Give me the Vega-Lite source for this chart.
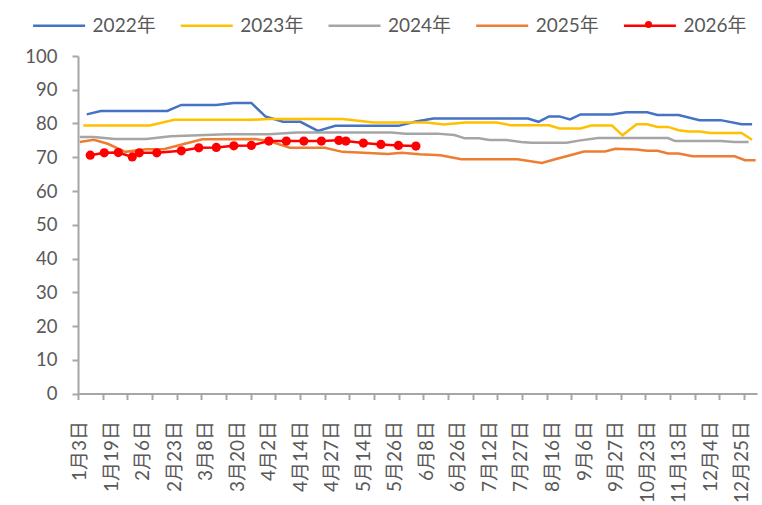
{
  "$schema": "https://vega.github.io/schema/vega-lite/v6.json",
  "width": 679,
  "height": 337.5,
  "autosize": {"type": "none"},
  "padding": {"left": 78, "top": 56, "right": 5, "bottom": 111.5},
  "background": "white",
  "config": {
    "view": {"stroke": null},
    "font": "Lato, 'Noto Sans CJK SC', sans-serif",
    "axis": {"grid": false, "labelFont": "Lato, 'Noto Sans CJK SC', sans-serif", "labelFontSize": 18.5, "labelColor": "#595959", "domainColor": "#A6A6A6", "tickColor": "#A6A6A6", "domainWidth": 2, "tickWidth": 2, "title": null},
    "axisY": {"values": [0,10,20,30,40,50,60,70,80,90,100], "tickSize": 6, "labelPadding": 15, "labelOverlap": false},
    "legend": {"labelFont": "Lato, 'Noto Sans CJK SC', sans-serif", "labelFontSize": 19, "labelColor": "#595959", "padding": 0, "title": null}
  },
  "data": {"values": [
    {"t":2,"year":"2022年","v":82.7},{"t":6,"year":"2022年","v":83.7},{"t":25,"year":"2022年","v":83.7},{"t":29,"year":"2022年","v":85.5},{"t":39,"year":"2022年","v":85.5},{"t":44,"year":"2022年","v":86.1},{"t":49,"year":"2022年","v":86.1},{"t":53,"year":"2022年","v":82.1},{"t":58,"year":"2022年","v":80.5},{"t":63,"year":"2022年","v":80.5},{"t":68,"year":"2022年","v":77.8},{"t":73,"year":"2022年","v":79.3},{"t":91,"year":"2022年","v":79.3},{"t":96,"year":"2022年","v":80.6},{"t":101,"year":"2022年","v":81.5},{"t":128,"year":"2022年","v":81.5},{"t":131,"year":"2022年","v":80.5},{"t":134,"year":"2022年","v":82.1},{"t":137,"year":"2022年","v":82.1},{"t":140,"year":"2022年","v":81.2},{"t":143,"year":"2022年","v":82.7},{"t":152,"year":"2022年","v":82.7},{"t":156,"year":"2022年","v":83.3},{"t":162,"year":"2022年","v":83.3},{"t":165,"year":"2022年","v":82.5},{"t":171,"year":"2022年","v":82.5},{"t":177,"year":"2022年","v":81.0},{"t":183,"year":"2022年","v":81.0},{"t":189,"year":"2022年","v":79.8},{"t":192,"year":"2022年","v":79.8},
    {"t":1,"year":"2023年","v":79.4},{"t":20,"year":"2023年","v":79.4},{"t":27,"year":"2023年","v":81.1},{"t":49,"year":"2023年","v":81.1},{"t":54,"year":"2023年","v":81.3},{"t":75,"year":"2023年","v":81.3},{"t":84,"year":"2023年","v":80.3},{"t":99,"year":"2023年","v":80.3},{"t":104,"year":"2023年","v":79.7},{"t":110,"year":"2023年","v":80.3},{"t":119,"year":"2023年","v":80.3},{"t":123,"year":"2023年","v":79.5},{"t":134,"year":"2023年","v":79.5},{"t":137,"year":"2023年","v":78.5},{"t":143,"year":"2023年","v":78.5},{"t":146,"year":"2023年","v":79.4},{"t":152,"year":"2023年","v":79.4},{"t":155,"year":"2023年","v":76.5},{"t":159,"year":"2023年","v":79.8},{"t":162,"year":"2023年","v":79.8},{"t":165,"year":"2023年","v":79.0},{"t":168,"year":"2023年","v":79.0},{"t":171,"year":"2023年","v":78.0},{"t":174,"year":"2023年","v":77.6},{"t":177,"year":"2023年","v":77.6},{"t":180,"year":"2023年","v":77.2},{"t":189,"year":"2023年","v":77.2},{"t":192,"year":"2023年","v":75.2},
    {"t":0,"year":"2024年","v":76.0},{"t":4,"year":"2024年","v":76.0},{"t":10,"year":"2024年","v":75.4},{"t":19,"year":"2024年","v":75.4},{"t":26,"year":"2024年","v":76.2},{"t":42,"year":"2024年","v":76.8},{"t":54,"year":"2024年","v":76.8},{"t":62,"year":"2024年","v":77.3},{"t":89,"year":"2024年","v":77.3},{"t":93,"year":"2024年","v":77.0},{"t":102,"year":"2024年","v":77.0},{"t":107,"year":"2024年","v":76.6},{"t":110,"year":"2024年","v":75.6},{"t":114,"year":"2024年","v":75.6},{"t":117,"year":"2024年","v":75.1},{"t":122,"year":"2024年","v":75.1},{"t":126,"year":"2024年","v":74.5},{"t":129,"year":"2024年","v":74.3},{"t":139,"year":"2024年","v":74.3},{"t":143,"year":"2024年","v":75.0},{"t":148,"year":"2024年","v":75.7},{"t":168,"year":"2024年","v":75.7},{"t":170,"year":"2024年","v":74.8},{"t":183,"year":"2024年","v":74.8},{"t":187,"year":"2024年","v":74.5},{"t":191,"year":"2024年","v":74.5},
    {"t":0,"year":"2025年","v":74.5},{"t":4,"year":"2025年","v":75.2},{"t":8,"year":"2025年","v":74.0},{"t":13,"year":"2025年","v":71.6},{"t":19,"year":"2025年","v":72.4},{"t":24,"year":"2025年","v":72.4},{"t":30,"year":"2025年","v":74.0},{"t":35,"year":"2025年","v":75.3},{"t":50,"year":"2025年","v":75.4},{"t":54,"year":"2025年","v":74.8},{"t":60,"year":"2025年","v":72.8},{"t":70,"year":"2025年","v":72.8},{"t":75,"year":"2025年","v":71.6},{"t":81,"year":"2025年","v":71.3},{"t":88,"year":"2025年","v":71.0},{"t":92,"year":"2025年","v":71.3},{"t":97,"year":"2025年","v":70.9},{"t":103,"year":"2025年","v":70.6},{"t":109,"year":"2025年","v":69.4},{"t":125,"year":"2025年","v":69.4},{"t":132,"year":"2025年","v":68.3},{"t":136,"year":"2025年","v":69.5},{"t":139,"year":"2025年","v":70.3},{"t":144,"year":"2025年","v":71.7},{"t":150,"year":"2025年","v":71.7},{"t":153,"year":"2025年","v":72.5},{"t":159,"year":"2025年","v":72.3},{"t":162,"year":"2025年","v":71.9},{"t":165,"year":"2025年","v":71.9},{"t":168,"year":"2025年","v":71.1},{"t":171,"year":"2025年","v":71.1},{"t":175,"year":"2025年","v":70.3},{"t":187,"year":"2025年","v":70.3},{"t":190,"year":"2025年","v":69.1},{"t":193,"year":"2025年","v":69.1},
    {"t":3,"year":"2026年","v":70.6},{"t":7,"year":"2026年","v":71.3},{"t":11,"year":"2026年","v":71.4},{"t":15,"year":"2026年","v":70.1},{"t":17,"year":"2026年","v":71.3},{"t":22,"year":"2026年","v":71.3},{"t":29,"year":"2026年","v":71.9},{"t":34,"year":"2026年","v":72.8},{"t":39,"year":"2026年","v":72.9},{"t":44,"year":"2026年","v":73.4},{"t":49,"year":"2026年","v":73.5},{"t":54,"year":"2026年","v":74.8},{"t":59,"year":"2026年","v":74.8},{"t":64,"year":"2026年","v":74.8},{"t":69,"year":"2026年","v":74.8},{"t":74,"year":"2026年","v":75.0},{"t":76,"year":"2026年","v":74.8},{"t":81,"year":"2026年","v":74.2},{"t":86,"year":"2026年","v":73.8},{"t":91,"year":"2026年","v":73.5},{"t":96,"year":"2026年","v":73.3}
  ]},
  "resolve": {"axis": {"x": "independent"}},
  "layer": [
    {
      "mark": {"type": "line", "strokeWidth": 2.5, "interpolate": "linear"},
      "encoding": {
        "x": {"field": "t", "type": "quantitative", "scale": {"domain": [-0.5, 193.4], "nice": false, "zero": false},
          "axis": {"orient": "bottom", "values": [0,9,18,27,36,45,54,63,72,81,90,99,108,117,126,135,144,153,162,171,180,189], "domain": false, "ticks": false, "tickSize": 0, "labelAngle": -90, "labelAlign": "right", "labelBaseline": "middle", "labelPadding": 27, "labelFontSize": 19, "labelFlush": false, "labelOverlap": false,
            "labelExpr": "['1月3日','1月19日','2月6日','2月23日','3月8日','3月20日','4月2日','4月14日','4月27日','5月14日','5月26日','6月8日','6月26日','7月12日','7月27日','8月16日','9月6日','9月27日','10月23日','11月13日','12月4日','12月25日'][round(datum.value/9)]"}},
        "y": {"field": "v", "type": "quantitative", "scale": {"domain": [0, 100], "nice": false},
          "axis": {"values": [0,10,20,30,40,50,60,70,80,90,100], "tickSize": 6, "labelPadding": 15, "labelOverlap": false}},
        "stroke": {"field": "year", "type": "nominal",
          "scale": {"domain": ["2022年","2023年","2024年","2025年","2026年"], "range": ["#4472C4","#FFC000","#A5A5A5","#ED7D31","#FF0000"]},
          "legend": {"orient": "none", "direction": "horizontal", "legendX": -46.4, "legendY": -58, "symbolType": "stroke", "symbolSize": 2704, "symbolStrokeWidth": 2.5, "labelOffset": 6, "columnPadding": 18.7}}
      }
    },
    {
      "transform": [{"filter": "datum.year === '2026年'"}],
      "mark": {"type": "point", "filled": true, "size": 85, "opacity": 1},
      "encoding": {
        "x": {"field": "t", "type": "quantitative",
          "axis": {"orient": "bottom", "values": [-0.5,6.545,13.59,20.635,27.68,34.725,41.77,48.815,55.86,62.905,69.95,76.995,84.04,91.085,98.13,105.175,112.22,119.265,126.31,133.355,140.4,147.445,154.49,161.535,168.58,175.625,182.67,189.715], "labels": false, "tickSize": 6, "domain": true}},
        "y": {"field": "v", "type": "quantitative",
          "axis": {"values": [0,10,20,30,40,50,60,70,80,90,100], "tickSize": 6, "labelPadding": 15, "labelOverlap": false}},
        "fill": {"field": "year", "type": "nominal", "scale": {"domain": ["2026年"], "range": ["#FF0000"]},
          "legend": {"orient": "none", "legendX": 566.5, "legendY": -35.5, "symbolType": "circle", "symbolSize": 50, "symbolStrokeWidth": 0, "labelExpr": "''", "labelFontSize": 7}}
      }
    }
  ]
}
